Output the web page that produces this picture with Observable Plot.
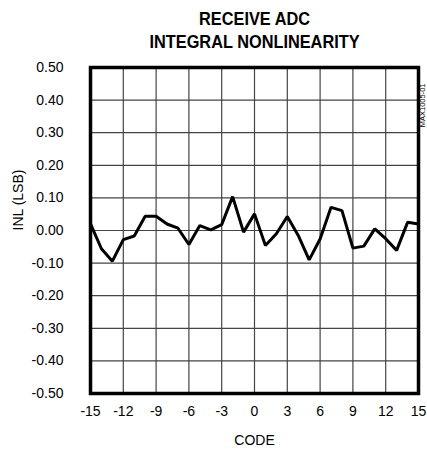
<!DOCTYPE html>
<html><head><meta charset="utf-8">
<script src="https://cdn.jsdelivr.net/npm/d3@7"></script>
<script src="https://cdn.jsdelivr.net/npm/@observablehq/plot@0.6"></script>
<style>body{margin:0;background:#fff;} svg{display:block;}</style>
</head><body><div id="chart"></div>
<script>
const codes = [-15,-14,-13,-12,-11,-10,-9,-8,-7,-6,-5,-4,-3,-2,-1,0,1,2,3,4,5,6,7,8,9,10,11,12,13,14,15];
const inl = [0.02,-0.056,-0.094,-0.028,-0.017,0.044,0.044,0.02,0.007,-0.043,0.015,0.002,0.018,0.104,-0.005,0.051,-0.046,-0.01,0.043,-0.015,-0.09,-0.026,0.071,0.061,-0.054,-0.048,0.005,-0.025,-0.061,0.025,0.02];
const xTicks = [-15,-12,-9,-6,-3,0,3,6,9,12,15];
const yTicks = [-0.5,-0.4,-0.3,-0.2,-0.1,0,0.1,0.2,0.3,0.4,0.5];
const titleLines = ["RECEIVE ADC", "INTEGRAL NONLINEARITY"];
const xLabel = "CODE";
const yLabel = "INL (LSB)";
const mark = "MAX1005-01";

const data = codes.map((c, i) => ({code: c, inl: inl[i]}));
const font = "Liberation Sans, Arial, sans-serif";
const f2 = d3.format(".2f");

const chart = Plot.plot({
  width: 427, height: 457,
  marginTop: 67, marginBottom: 64, marginLeft: 90, marginRight: 9,
  style: {fontFamily: font, fontSize: "14px", color: "#000", background: "#fff"},
  x: {domain: [-15, 15], ticks: xTicks},
  y: {domain: [-0.5, 0.5], ticks: yTicks},
  marks: [
    Plot.gridX(xTicks, {stroke: "#444", strokeOpacity: 1, strokeWidth: 1.2}),
    Plot.gridY(yTicks, {stroke: "#444", strokeOpacity: 1, strokeWidth: 1.2}),
    Plot.axisX(xTicks, {tickSize: 0, tickPadding: 13, label: null, fontSize: 14, tickFormat: d => String(d)}),
    Plot.axisY(yTicks, {tickSize: 0, tickPadding: 27, label: null, tickFormat: d => f2(d).replace("\u2212", "-"), fontSize: 14}),
    Plot.line(data, {x: "code", y: "inl", stroke: "#000", strokeWidth: 3, strokeLinejoin: "miter"}),
    Plot.frame({stroke: "#000", strokeWidth: 3.5}),
    Plot.text([titleLines[0]], {frameAnchor: "top", dy: -56, text: d => d, fontWeight: "bold", fontSize: 19, className: "ttl"}),
    Plot.text([titleLines[1]], {frameAnchor: "top", dy: -33, text: d => d, fontWeight: "bold", fontSize: 19, className: "ttl"}),
    Plot.text([xLabel], {frameAnchor: "bottom", dy: 51, text: d => d, fontSize: 14}),
    Plot.text([yLabel], {frameAnchor: "left", dx: -72, rotate: -90, text: d => d, fontSize: 14}),
    Plot.text([mark], {frameAnchor: "top-right", dx: 1, dy: 16, rotate: -90, text: d => d, fontSize: 7.5})
  ]
});
document.getElementById("chart").appendChild(chart);
// condense the title horizontally, like the reference's narrow bold face
chart.querySelectorAll("g.ttl text").forEach(t => {
  const b = t.getBBox();
  const cx = b.x + b.width / 2;
  const prev = t.getAttribute("transform") || "";
  t.setAttribute("transform", `${prev} translate(${cx},0) scale(0.86,1) translate(${-cx},0)`);
});
</script>
</body></html>
